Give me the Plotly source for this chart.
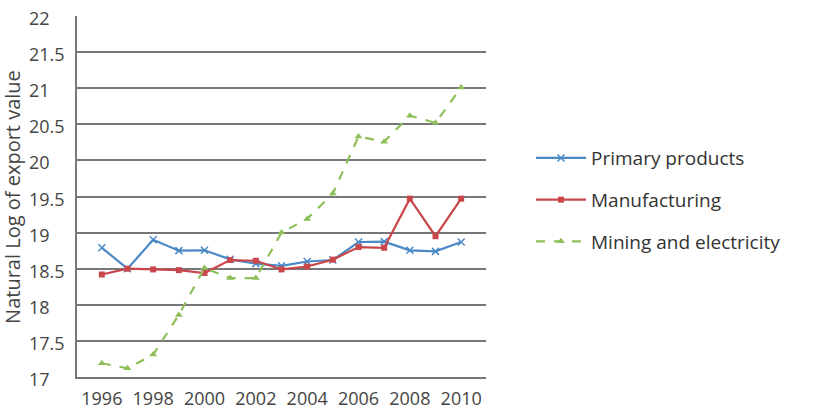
import plotly.graph_objects as go

years = [str(y) for y in range(1996, 2011)]
primary = [18.79, 18.50, 18.90, 18.75, 18.755, 18.63, 18.57, 18.54, 18.60, 18.62, 18.87, 18.875, 18.755, 18.74, 18.87]
manufacturing = [18.42, 18.50, 18.49, 18.48, 18.44, 18.62, 18.61, 18.49, 18.53, 18.625, 18.80, 18.79, 19.47, 18.95, 19.47]
mining = [17.19, 17.12, 17.31, 17.86, 18.51, 18.37, 18.37, 19.00, 19.19, 19.54, 20.33, 20.26, 20.62, 20.52, 21.01]
y_ticks = [17, 17.5, 18, 18.5, 19, 19.5, 20, 20.5, 21, 21.5, 22]
x_ticks = years[::2]

font_family = "Open Sans, Liberation Sans, sans-serif"
text_color = "#444444"

fig = go.Figure()
fig.add_trace(go.Scatter(x=years, y=primary, name="Primary products", mode="lines+markers",
                         line=dict(color="#4a89c6", width=2.2),
                         marker=dict(symbol="x-thin", size=7, line=dict(color="#4a89c6", width=1.5)),
                         legendgroup="a"))
fig.add_trace(go.Scatter(x=years, y=manufacturing, name="Manufacturing", mode="lines+markers",
                         line=dict(color="#c9474a", width=2.2),
                         marker=dict(symbol="square", size=6, color="#c9474a"),
                         legendgroup="b"))
fig.add_trace(go.Scatter(x=years, y=mining, name="Mining and electricity", mode="lines+markers",
                         line=dict(color="#8fbf5a", width=2.2, dash="dash"),
                         marker=dict(symbol="triangle-up", size=7, color="#8fbf5a"),
                         legendgroup="c"))

# left-aligned y tick labels
for v in y_ticks:
    fig.add_annotation(x=-0.122, xref="paper", y=v, yref="y", text=f"{v:g}",
                       showarrow=False, xanchor="left", yanchor="middle", yshift=-2,
                       font=dict(size=18, color=text_color, family=font_family))

fig.add_annotation(x=-0.158, xref="paper", y=0.5, yref="paper", text="Natural Log of export value",
                   textangle=-90, showarrow=False, xanchor="center", yanchor="middle",
                   font=dict(size=20, color=text_color, family=font_family))

fig.update_layout(
    width=819, height=420,
    margin=dict(l=77, r=333, t=16, b=43),
    paper_bgcolor="white", plot_bgcolor="white",
    font=dict(family=font_family, color=text_color, size=18),
    legend=dict(x=1.11, y=0.49, xanchor="left", yanchor="middle", itemwidth=50,
                font=dict(size=19, color="#333333"), tracegroupgap=14,
                traceorder="grouped", bgcolor="rgba(0,0,0,0)"),
    xaxis=dict(type="category", showgrid=False, showline=True, linecolor="#777777", linewidth=2,
               ticks="", tickangle=0, tickvals=x_ticks, ticktext=x_ticks, ticklabelstandoff=4,
               automargin=False, tickfont=dict(size=18, color=text_color)),
    yaxis=dict(range=[17, 22], tickvals=y_ticks, showticklabels=False, automargin=False,
               showgrid=True, gridcolor="#777777", gridwidth=2, showline=True,
               linecolor="#777777", linewidth=2, zeroline=False, ticks=""),
)

fig.write_html("out.html")
